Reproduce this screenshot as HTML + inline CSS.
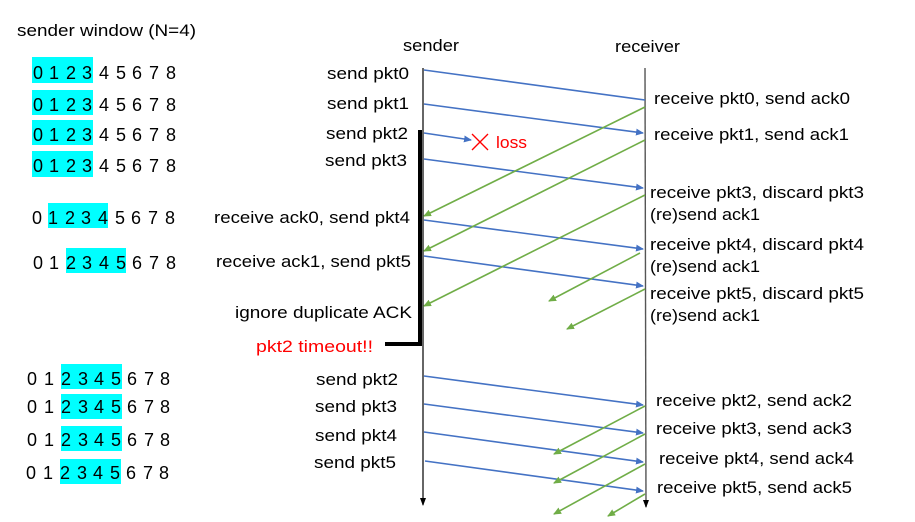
<!DOCTYPE html>
<html><head><meta charset="utf-8"><style>
html,body{margin:0;padding:0;background:#fff;}
svg{display:block;}
text{font-family:"Liberation Sans","Noto Sans CJK KR",sans-serif;font-size:17px;fill:#000;}
.d{font-size:18px;text-anchor:middle;}
</style></head><body>
<svg width="915" height="522" viewBox="0 0 915 522" xmlns="http://www.w3.org/2000/svg">
<defs>
<marker id="ab" markerWidth="8" markerHeight="8" refX="7" refY="4" orient="auto" markerUnits="userSpaceOnUse"><path d="M0,0.5 L8,4 L0,7.5 Z" fill="#4472C4"/></marker>
<marker id="ag" markerWidth="8" markerHeight="8" refX="7" refY="4" orient="auto" markerUnits="userSpaceOnUse"><path d="M0,0.5 L8,4 L0,7.5 Z" fill="#70AD47"/></marker>
<marker id="ak" markerWidth="8" markerHeight="8" refX="7" refY="4" orient="auto" markerUnits="userSpaceOnUse"><path d="M0,1 L8,4 L0,7 Z" fill="#000"/></marker>
</defs>

<text x="17" y="36" textLength="179" lengthAdjust="spacingAndGlyphs">sender window (N=4)</text>

<!-- cyan boxes -->
<g fill="#00FFFF">
<rect x="32" y="57" width="61" height="26"/>
<rect x="32" y="90" width="61" height="25"/>
<rect x="32" y="120" width="61" height="25"/>
<rect x="32" y="151" width="61" height="26"/>
<rect x="48" y="203" width="60" height="25"/>
<rect x="66" y="248" width="60" height="25"/>
<rect x="61" y="364" width="61" height="25"/>
<rect x="61" y="394" width="61" height="25"/>
<rect x="61" y="426" width="61" height="25"/>
<rect x="60" y="459" width="61" height="25"/>
</g>

<g class="dg">
<text class="d" y="79"><tspan x="38">0</tspan><tspan x="54">1</tspan><tspan x="71">2</tspan><tspan x="87">3</tspan><tspan x="104">4</tspan><tspan x="121">5</tspan><tspan x="137">6</tspan><tspan x="154">7</tspan><tspan x="171">8</tspan></text>
<text class="d" y="111"><tspan x="38">0</tspan><tspan x="54">1</tspan><tspan x="71">2</tspan><tspan x="87">3</tspan><tspan x="104">4</tspan><tspan x="121">5</tspan><tspan x="137">6</tspan><tspan x="154">7</tspan><tspan x="171">8</tspan></text>
<text class="d" y="141"><tspan x="38">0</tspan><tspan x="54">1</tspan><tspan x="71">2</tspan><tspan x="87">3</tspan><tspan x="104">4</tspan><tspan x="121">5</tspan><tspan x="137">6</tspan><tspan x="154">7</tspan><tspan x="171">8</tspan></text>
<text class="d" y="172"><tspan x="38">0</tspan><tspan x="54">1</tspan><tspan x="71">2</tspan><tspan x="87">3</tspan><tspan x="104">4</tspan><tspan x="121">5</tspan><tspan x="137">6</tspan><tspan x="154">7</tspan><tspan x="171">8</tspan></text>
<text class="d" y="224"><tspan x="37">0</tspan><tspan x="53">1</tspan><tspan x="70">2</tspan><tspan x="86">3</tspan><tspan x="103">4</tspan><tspan x="120">5</tspan><tspan x="136">6</tspan><tspan x="153">7</tspan><tspan x="170">8</tspan></text>
<text class="d" y="269"><tspan x="38">0</tspan><tspan x="54">1</tspan><tspan x="71">2</tspan><tspan x="87">3</tspan><tspan x="104">4</tspan><tspan x="121">5</tspan><tspan x="137">6</tspan><tspan x="154">7</tspan><tspan x="171">8</tspan></text>
<text class="d" y="385"><tspan x="32">0</tspan><tspan x="49">1</tspan><tspan x="66">2</tspan><tspan x="83">3</tspan><tspan x="99">4</tspan><tspan x="116">5</tspan><tspan x="132">6</tspan><tspan x="149">7</tspan><tspan x="165">8</tspan></text>
<text class="d" y="413"><tspan x="32">0</tspan><tspan x="49">1</tspan><tspan x="66">2</tspan><tspan x="83">3</tspan><tspan x="99">4</tspan><tspan x="116">5</tspan><tspan x="132">6</tspan><tspan x="149">7</tspan><tspan x="165">8</tspan></text>
<text class="d" y="446"><tspan x="32">0</tspan><tspan x="49">1</tspan><tspan x="66">2</tspan><tspan x="83">3</tspan><tspan x="99">4</tspan><tspan x="116">5</tspan><tspan x="132">6</tspan><tspan x="149">7</tspan><tspan x="165">8</tspan></text>
<text class="d" y="479"><tspan x="31">0</tspan><tspan x="48">1</tspan><tspan x="65">2</tspan><tspan x="82">3</tspan><tspan x="98">4</tspan><tspan x="115">5</tspan><tspan x="131">6</tspan><tspan x="148">7</tspan><tspan x="164">8</tspan></text>
</g>

<text x="403" y="51" textLength="56" lengthAdjust="spacingAndGlyphs">sender</text>
<text x="615" y="52" textLength="65" lengthAdjust="spacingAndGlyphs">receiver</text>

<!-- sender labels -->
<text x="327" y="79" textLength="82" lengthAdjust="spacingAndGlyphs">send pkt0</text>
<text x="327" y="109" textLength="82" lengthAdjust="spacingAndGlyphs">send pkt1</text>
<text x="326" y="139" textLength="82" lengthAdjust="spacingAndGlyphs">send pkt2</text>
<text x="325" y="166" textLength="82" lengthAdjust="spacingAndGlyphs">send pkt3</text>
<text x="214" y="223" textLength="196" lengthAdjust="spacingAndGlyphs">receive ack0, send pkt4</text>
<text x="216" y="267" textLength="195" lengthAdjust="spacingAndGlyphs">receive ack1, send pkt5</text>
<text x="235" y="318" textLength="177" lengthAdjust="spacingAndGlyphs">ignore duplicate ACK</text>
<text x="256" y="352" textLength="117" lengthAdjust="spacingAndGlyphs" style="fill:#FF0000">pkt2 timeout!!</text>
<text x="316" y="385" textLength="82" lengthAdjust="spacingAndGlyphs">send pkt2</text>
<text x="315" y="412" textLength="82" lengthAdjust="spacingAndGlyphs">send pkt3</text>
<text x="315" y="441" textLength="82" lengthAdjust="spacingAndGlyphs">send pkt4</text>
<text x="314" y="468" textLength="82" lengthAdjust="spacingAndGlyphs">send pkt5</text>

<!-- receiver labels -->
<text x="654" y="104" textLength="196" lengthAdjust="spacingAndGlyphs">receive pkt0, send ack0</text>
<text x="654" y="140" textLength="195" lengthAdjust="spacingAndGlyphs">receive pkt1, send ack1</text>
<text x="650" y="198" textLength="214" lengthAdjust="spacingAndGlyphs">receive pkt3, discard pkt3</text>
<text x="650" y="220" textLength="110" lengthAdjust="spacingAndGlyphs">(re)send ack1</text>
<text x="650" y="250" textLength="214" lengthAdjust="spacingAndGlyphs">receive pkt4, discard pkt4</text>
<text x="650" y="272" textLength="110" lengthAdjust="spacingAndGlyphs">(re)send ack1</text>
<text x="650" y="299" textLength="214" lengthAdjust="spacingAndGlyphs">receive pkt5, discard pkt5</text>
<text x="650" y="321" textLength="110" lengthAdjust="spacingAndGlyphs">(re)send ack1</text>
<text x="656" y="406" textLength="196" lengthAdjust="spacingAndGlyphs">receive pkt2, send ack2</text>
<text x="656" y="434" textLength="196" lengthAdjust="spacingAndGlyphs">receive pkt3, send ack3</text>
<text x="659" y="464" textLength="195" lengthAdjust="spacingAndGlyphs">receive pkt4, send ack4</text>
<text x="657" y="493" textLength="195" lengthAdjust="spacingAndGlyphs">receive pkt5, send ack5</text>

<text x="496" y="148" textLength="31" lengthAdjust="spacingAndGlyphs" style="fill:#FF0000">loss</text>
<g stroke="#FF0000" stroke-width="1.3"><line x1="472" y1="134" x2="488" y2="150"/><line x1="488" y1="134" x2="472" y2="150"/></g>

<!-- timelines -->
<line x1="423" y1="68" x2="423" y2="505" stroke="#000" stroke-width="1.2" marker-end="url(#ak)"/>
<line x1="645" y1="68" x2="646" y2="507" stroke="#555" stroke-width="1.4" marker-end="url(#ak)"/>
<path d="M420,130 L420,344 L385,344" fill="none" stroke="#000" stroke-width="4"/>

<!-- blue -->
<g stroke="#4472C4" stroke-width="1.6" fill="none">
<line x1="424" y1="70" x2="645" y2="100"/>
<line x1="424" y1="104" x2="643" y2="133" marker-end="url(#ab)"/>
<line x1="424" y1="133" x2="471" y2="140" marker-end="url(#ab)"/>
<line x1="424" y1="159" x2="643" y2="188" marker-end="url(#ab)"/>
<line x1="424" y1="220" x2="643" y2="249" marker-end="url(#ab)"/>
<line x1="424" y1="256" x2="643" y2="286" marker-end="url(#ab)"/>
<line x1="424" y1="376" x2="643" y2="405" marker-end="url(#ab)"/>
<line x1="424" y1="404" x2="643" y2="433" marker-end="url(#ab)"/>
<line x1="424" y1="432" x2="643" y2="462" marker-end="url(#ab)"/>
<line x1="425" y1="461" x2="643" y2="491" marker-end="url(#ab)"/>
</g>
<!-- green -->
<g stroke="#70AD47" stroke-width="1.6" fill="none">
<line x1="645" y1="107" x2="424" y2="216" marker-end="url(#ag)"/>
<line x1="645" y1="140" x2="424" y2="251" marker-end="url(#ag)"/>
<line x1="645" y1="195" x2="424" y2="306" marker-end="url(#ag)"/>
<line x1="640" y1="253" x2="549" y2="301" marker-end="url(#ag)"/>
<line x1="645" y1="289" x2="567" y2="329" marker-end="url(#ag)"/>
<line x1="645" y1="406" x2="554" y2="454" marker-end="url(#ag)"/>
<line x1="645" y1="434" x2="554" y2="483" marker-end="url(#ag)"/>
<line x1="645" y1="464" x2="554" y2="514" marker-end="url(#ag)"/>
<line x1="645" y1="494" x2="608" y2="516" marker-end="url(#ag)"/>
</g>
</svg>
</body></html>
